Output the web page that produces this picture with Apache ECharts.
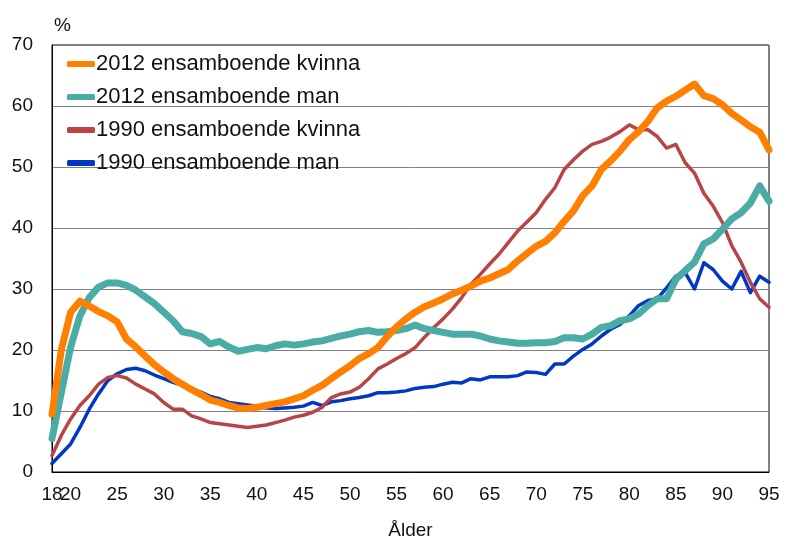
<!DOCTYPE html>
<html>
<head>
<meta charset="utf-8">
<script src="https://cdn.jsdelivr.net/npm/echarts@6/dist/echarts.min.js"></script>
<style>
  html, body { margin: 0; padding: 0; background: #fff; }
  #main { width: 787px; height: 545px; }
</style>
</head>
<body>
<div id="main"></div>
<script>
// ålder 18..95
var ages = [];
for (var a = 18; a <= 95; a++) ages.push(String(a));

var kvinna2012 = [9.5, 20, 26.2, 28.0, 27.2, 26.3, 25.6, 24.6, 21.8, 20.5,
  19.0, 17.6, 16.4, 15.3, 14.4, 13.5, 12.7, 11.8, 11.4, 10.9,
  10.5, 10.4, 10.6, 10.9, 11.2, 11.5, 12.0, 12.5, 13.4, 14.2,
  15.3, 16.4, 17.4, 18.6, 19.4, 20.4, 22.2, 23.8, 25.1, 26.2,
  27.1, 27.7, 28.4, 29.2, 29.8, 30.5, 31.3, 31.8, 32.5, 33.2,
  34.6, 35.8, 37.0, 37.8, 39.2, 41.1, 42.8, 45.3, 46.9, 49.6,
  51.0, 52.6, 54.5, 55.8, 57.5, 59.7, 60.8, 61.6, 62.6, 63.6,
  61.7, 61.2, 60.2, 58.8, 57.7, 56.6, 55.7, 52.8];

var man2012 = [5.5, 13, 20.5, 25.6, 28.6, 30.3, 31.0, 31.0, 30.6, 29.8,
  28.7, 27.6, 26.2, 24.8, 23.0, 22.7, 22.2, 21.0, 21.4, 20.5,
  19.8, 20.1, 20.4, 20.2, 20.7, 21.0, 20.8, 21.0, 21.3, 21.5,
  21.9, 22.3, 22.6, 23.0, 23.2, 22.9, 23.0, 23.2, 23.5, 24.1,
  23.5, 23.2, 22.9, 22.6, 22.6, 22.6, 22.3, 21.8, 21.5, 21.3,
  21.1, 21.1, 21.2, 21.2, 21.4, 22.0, 22.0, 21.8, 22.6, 23.7,
  24.0, 24.8, 25.1, 25.9, 27.3, 28.4, 28.4, 31.6, 33.0, 34.4,
  37.4, 38.2, 39.8, 41.5, 42.5, 44.1, 46.9, 44.4];

var kvinna1990 = [2.7, 6.0, 8.7, 10.9, 12.5, 14.4, 15.5, 15.8, 15.4, 14.4,
  13.6, 12.8, 11.4, 10.3, 10.3, 9.2, 8.7, 8.1, 7.9, 7.7,
  7.5, 7.3, 7.5, 7.7, 8.1, 8.5, 9.0, 9.3, 9.8, 10.6,
  12.2, 12.8, 13.1, 13.9, 15.3, 16.9, 17.7, 18.6, 19.4, 20.4,
  22.1, 23.7, 25.1, 26.7, 28.6, 30.8, 32.4, 34.1, 35.7, 37.6,
  39.5, 41.0, 42.5, 44.7, 46.6, 49.6, 51.2, 52.6, 53.7, 54.2,
  54.9, 55.8, 56.9, 56.1, 56.1, 55.0, 53.1, 53.7, 50.7, 49.0,
  45.7, 43.6, 40.9, 37.1, 34.4, 31.1, 28.4, 27.0];

var man1990 = [1.4, 3.0, 4.6, 7.3, 10.3, 12.8, 15.0, 16.1, 16.8, 17.0,
  16.6, 15.9, 15.3, 14.7, 14.2, 13.6, 13.1, 12.4, 12.0, 11.4,
  11.2, 11.0, 10.8, 10.5, 10.4, 10.5, 10.6, 10.8, 11.4, 10.9,
  11.5, 11.7, 12.0, 12.2, 12.5, 13.0, 13.0, 13.1, 13.3, 13.7,
  13.9, 14.0, 14.4, 14.7, 14.6, 15.3, 15.1, 15.6, 15.6, 15.6,
  15.8, 16.4, 16.3, 16.0, 17.7, 17.7, 19.0, 20.1, 21.0, 22.3,
  23.4, 24.2, 25.6, 27.3, 28.1, 28.4, 30.2, 32.1, 32.7, 30.0,
  34.3, 33.2, 31.3, 30.0, 32.9, 29.4, 32.1, 31.1];

var seriesNames = ['2012 ensamboende kvinna', '2012 ensamboende man',
  '1990 ensamboende kvinna', '1990 ensamboende man'];
var colors = ['#FF8000', '#4BACA6', '#B94446', '#0038C4'];

var chart = echarts.init(document.getElementById('main'));
var font = 'Liberation Sans, Arial, sans-serif';

function mkLine(i, data, w, z) {
  return {
    name: seriesNames[i], type: 'line', data: data, symbol: 'none',
    z: z, color: colors[i],
    lineStyle: { width: w, color: colors[i], cap: 'round', join: 'round' }
  };
}

// etiketter: 18 och var femte år på huvudaxeln, 20 på en extra axel (överlappar 18)
function mainTicks(idx, val) {
  var v = +val;
  return v === 18 || (v % 5 === 0 && v !== 20);
}
function extraTicks(idx, val) {
  return +val === 20;
}

chart.setOption({
  animation: false,
  textStyle: { fontFamily: font },
  grid: { left: 52, right: 18, top: 45, bottom: 72, show: true, borderColor: '#000', borderWidth: 1 },
  legend: {
    orient: 'vertical', left: 62, top: 48, itemGap: 11,
    itemWidth: 28, itemHeight: 6, icon: 'roundRect',
    data: seriesNames,
    textStyle: { fontSize: 22, color: '#111', fontFamily: font, padding: [0, 0, 0, -4] }
  },
  xAxis: [{
    type: 'category', data: ages, boundaryGap: false,
    name: 'Ålder', nameLocation: 'middle', nameGap: 49,
    nameTextStyle: { fontSize: 19, color: '#111', fontFamily: font },
    axisLine: { lineStyle: { color: '#000', width: 1 } },
    axisTick: { show: false },
    axisLabel: {
      fontSize: 19, color: '#111', margin: 13, fontFamily: font,
      showMinLabel: true, hideOverlap: false, interval: mainTicks
    },
    splitLine: { show: false }
  }, {
    type: 'category', data: ages, boundaryGap: false, position: 'bottom',
    axisLine: { show: false },
    axisTick: { show: false },
    axisLabel: {
      fontSize: 19, color: '#111', margin: 13, fontFamily: font,
      showMinLabel: false, showMaxLabel: false, interval: extraTicks
    },
    splitLine: { show: false }
  }],
  yAxis: {
    type: 'value', min: 0, max: 70, interval: 10,
    name: '%', nameLocation: 'end', nameGap: 10,
    nameTextStyle: { fontSize: 19, color: '#111', align: 'left', padding: [0, 0, 0, 2], fontFamily: font },
    axisLine: { show: true, lineStyle: { color: '#000', width: 1 } },
    axisTick: { show: false },
    axisLabel: { fontSize: 19, color: '#111', margin: 19, fontFamily: font },
    splitLine: { lineStyle: { color: '#808080', width: 1 } }
  },
  series: [
    mkLine(3, man1990, 3.5, 2),
    mkLine(2, kvinna1990, 3.5, 3),
    mkLine(1, man2012, 7, 4),
    mkLine(0, kvinna2012, 7, 5)
  ]
});
</script>
</body>
</html>
